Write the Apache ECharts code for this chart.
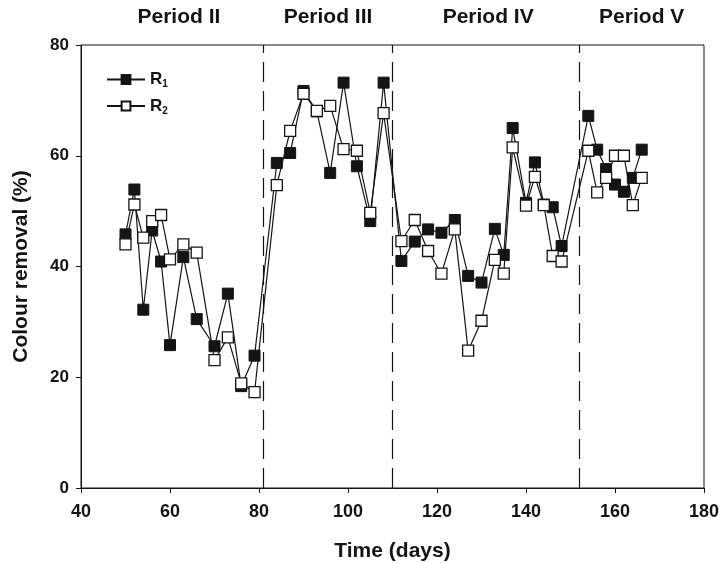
<!DOCTYPE html>
<html lang="en">
<head>
    <meta charset="utf-8">
    <script src="https://cdn.jsdelivr.net/npm/echarts@6/dist/echarts.min.js"></script>
    <style>
        html, body { margin: 0; padding: 0; background: #fff; }
        #chart { width: 721px; height: 563px; }
    </style>
</head>
<body>
<div id="chart"></div>
<script>
    // sampling days (shared by both reactors)
    var days = [50, 52, 54, 56, 58, 60, 63, 66, 70, 73, 76, 79,
        84, 87, 90, 93, 96, 99, 102, 105, 108,
        112, 115, 118, 121, 124, 127, 130, 133, 135, 137, 140, 142, 144, 146, 148,
        154, 156, 158, 160, 162, 164, 166];
    var r1 = [45.8, 53.9, 32.2, 46.5, 40.9, 25.8, 41.7, 30.5, 25.6, 35.1, 18.4, 23.9,
        58.7, 60.5, 71.7, 68.0, 56.9, 73.2, 58.1, 48.2, 73.2,
        41.0, 44.5, 46.7, 46.1, 48.4, 38.3, 37.1, 46.8, 42.1, 65.0, 51.5, 58.8, 51.2, 50.7, 43.7,
        67.2, 61.1, 57.6, 54.8, 53.5, 56.0, 61.1];
    var r2 = [44.0, 51.2, 45.2, 48.2, 49.3, 41.3, 44.0, 42.5, 23.1, 27.2, 18.9, 17.3,
        54.7, 64.5, 71.2, 68.1, 69.0, 61.2, 60.9, 49.7, 67.7,
        44.6, 48.4, 42.8, 38.7, 46.7, 24.8, 30.2, 41.2, 38.7, 61.5, 51.0, 56.2, 51.1, 41.9, 40.9,
        60.9, 53.4, 56.0, 60.0, 60.0, 51.1, 56.0];
    var periodBreaks = [81, 110, 152];
    var periodNames = ['Period II', 'Period III', 'Period IV', 'Period V'];
    var periodCenters = [62, 95.5, 131.5, 166];

    var font = '"Liberation Sans", Arial, sans-serif';
    var ink = '#141414';

    function pairs(vals) {
        var out = [];
        for (var i = 0; i < days.length; i++) out.push([days[i], vals[i]]);
        return out;
    }

    var chart = echarts.init(document.getElementById('chart'));
    var option = {
        animation: false,
        backgroundColor: '#fff',
        grid: {
            left: 81, right: 17, top: 45, bottom: 75,
            outerBoundsMode: 'none',
            containLabel: false,
            show: true, borderColor: ink, borderWidth: 1
        },
        legend: {
            orient: 'vertical',
            left: 101, top: 66,
            itemWidth: 38, itemHeight: 11, itemGap: 8,
            selectedMode: false,
            data: ['R1', 'R2'],
            formatter: function (name) {
                return '{m|R}{s|' + name.slice(1) + '}';
            },
            textStyle: {
                color: ink,
                rich: {
                    m: {fontFamily: font, fontWeight: 'bold', fontSize: 17, lineHeight: 20, verticalAlign: 'middle'},
                    s: {fontFamily: font, fontWeight: 'bold', fontSize: 10, lineHeight: 20, verticalAlign: 'bottom'}
                }
            }
        },
        xAxis: {
            type: 'value',
            min: 40, max: 180, interval: 20,
            name: 'Time (days)',
            nameLocation: 'middle',
            nameGap: 53,
            nameTextStyle: {fontFamily: font, fontWeight: 'bold', fontSize: 21, color: ink},
            axisLine: {show: true, lineStyle: {color: ink, width: 1}},
            axisTick: {show: true, inside: false, length: 5, lineStyle: {color: ink}},
            axisLabel: {fontFamily: font, fontWeight: 'bold', fontSize: 18, color: ink, margin: 15},
            splitLine: {show: false}
        },
        yAxis: {
            type: 'value',
            min: 0, max: 80, interval: 20,
            name: 'Colour removal (%)',
            nameLocation: 'middle',
            nameGap: 49,
            nameTextStyle: {fontFamily: font, fontWeight: 'bold', fontSize: 21, color: ink},
            axisLine: {show: true, lineStyle: {color: ink, width: 1}},
            axisTick: {show: true, inside: false, length: 5, lineStyle: {color: ink}},
            axisLabel: {fontFamily: font, fontWeight: 'bold', fontSize: 17, color: ink, margin: 12},
            splitLine: {show: false}
        },
        series: [{
            name: 'R1',
            type: 'line',
            data: pairs(r1),
            symbol: 'rect',
            symbolSize: 11,
            z: 2,
            lineStyle: {color: ink, width: 1.2},
            itemStyle: {color: ink, borderColor: ink, borderWidth: 1},
            emphasis: {disabled: true},
            markLine: {
                silent: true,
                symbol: 'none',
                label: {show: false},
                lineStyle: {color: ink, width: 1.2, type: [20, 9]},
                data: periodBreaks.map(function (d) { return {xAxis: d}; })
            },
            markPoint: {
                silent: true,
                symbol: 'circle',
                symbolSize: 0,
                label: {
                    show: true, position: 'top', distance: 17,
                    fontFamily: font, fontWeight: 'bold', fontSize: 21, color: ink,
                    formatter: function (p) { return p.name; }
                },
                data: periodNames.map(function (n, i) {
                    return {name: n, coord: [periodCenters[i], 80]};
                })
            }
        }, {
            name: 'R2',
            type: 'line',
            data: pairs(r2),
            symbol: 'rect',
            symbolSize: 11,
            z: 3,
            lineStyle: {color: ink, width: 1.2},
            itemStyle: {color: '#fff', borderColor: ink, borderWidth: 1.3},
            emphasis: {disabled: true}
        }]
    };
    chart.setOption(option);
</script>
</body>
</html>
